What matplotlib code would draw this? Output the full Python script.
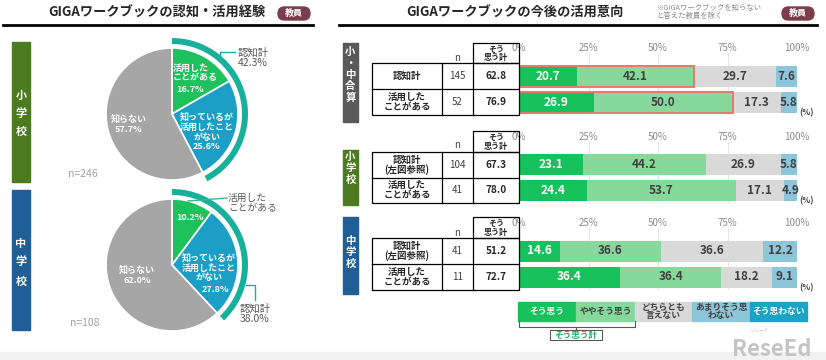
import matplotlib
matplotlib.use("Agg")
import matplotlib.pyplot as plt
from matplotlib.patches import Rectangle, FancyBboxPatch

W, H = 826, 360

# left panel: awareness / usage of the workbook
elem_values = [16.7, 25.6, 57.7]
elem_n = 246
elem_aware = 42.3
junior_values = [10.2, 27.8, 62.0]
junior_n = 108
junior_aware = 38.0

# right panel: intention to use
answer_labels = ["そう思う", "ややそう思う", "どちらとも\n言えない", "あまりそう思\nわない", "そう思わない"]
group_names = ["小・中合算", "小学校", "中学校"]
row_labels = [
    ["認知計", "活用した\nことがある"],
    ["認知計\n(左図参照)", "活用した\nことがある"],
    ["認知計\n(左図参照)", "活用した\nことがある"],
]
row_n = [[145, 52], [104, 41], [41, 11]]
row_total = [[62.8, 76.9], [67.3, 78.0], [51.2, 72.7]]
agree = [[20.7, 26.9], [23.1, 24.4], [14.6, 36.4]]
some_agree = [[42.1, 50.0], [44.2, 53.7], [36.6, 36.4]]
neutral = [[29.7, 17.3], [26.9, 17.1], [36.6, 18.2]]
little = [[7.6, 5.8], [5.8, 4.9], [12.2, 9.1]]
disagree = [[0.0, 0.0], [0.0, 0.0], [0.0, 0.0]]
ticks = [0, 25, 50, 75, 100]

PIE_COLORS = ["#1fc15c", "#1b9fc6", "#a6a6a6"]
RING = "#17b09c"
BAR_COLORS = ["#17c15b", "#86d99b", "#d9d9d9", "#8dc5d9", "#1ba3c6"]
BAR_TEXT = ["white", "#404040", "#404040", "#404040", "white"]
GRAY_TXT = "#595959"
BADGE = "#7b3d4b"

plt.rcParams["font.family"] = ["Noto Sans CJK JP", "DejaVu Sans"]


def px_axes(fig, x0, y0, x1, y1):
    return fig.add_axes([x0 / W, 1 - y1 / H, (x1 - x0) / W, (y1 - y0) / H])


def draw_pie(fig, cx, cy, values, aware):
    ax = px_axes(fig, cx - 80, cy - 80, cx + 80, cy + 80)
    ax.pie(values, radius=66, startangle=90, counterclock=False, colors=PIE_COLORS,
           wedgeprops=dict(edgecolor="white", linewidth=1.2))
    ax.pie([aware, 100 - aware], radius=76, startangle=90, counterclock=False,
           colors=[RING, "none"], wedgeprops=dict(width=6, linewidth=0))
    ax.set_xlim(-80, 80)
    ax.set_ylim(-80, 80)
    ax.set_aspect("equal")
    ax.axis("off")


def main() -> None:
    fig = plt.figure(figsize=(W / 100, H / 100), dpi=100)

    draw_pie(fig, 172, 114, elem_values, elem_aware)
    draw_pie(fig, 172, 265, junior_values, junior_aware)

    groups = [
        dict(hdr=43, rows=[63, 89, 115], side=(43, 122), color="#595959", n_y=58, pct_y=113, ch_y=52),
        dict(hdr=131, rows=[152, 177.5, 203], side=(150, 205), color="#4b7a20", n_y=145, pct_y=201, ch_y=157),
        dict(hdr=217, rows=[238, 264, 290], side=(217, 294), color="#1f5f95", n_y=233, pct_y=288, ch_y=241),
    ]
    x0, x1 = 519, 797

    series = [agree, some_agree, neutral, little, disagree]
    for g, spec in enumerate(groups):
        top, mid, bot = spec["rows"]
        centers = [(top + mid) / 2, (mid + bot) / 2]
        bax = px_axes(fig, x0, top - 10, x1, bot)
        bax.set_xlim(0, 100)
        bax.set_ylim(bot, top - 10)
        left = [0.0, 0.0]
        for s, data in enumerate(series):
            vals = data[g]
            bax.barh(centers, vals, left=left, height=21, color=BAR_COLORS[s], zorder=2)
            for yc, v, l in zip(centers, vals, left):
                if v > 0:
                    bax.text(l + v / 2, yc, f"{v:.1f}", ha="center", va="center",
                             fontsize=8.5, fontweight="bold", color=BAR_TEXT[s], zorder=3)
            left = [a + b for a, b in zip(left, vals)]
        if g == 0:
            for yc, tot in zip(centers, row_total[g]):
                bax.add_patch(Rectangle((0, yc - 10.5), tot, 21, fill=False,
                                        edgecolor="#e8796f", linewidth=1.4, zorder=4))
        bax.xaxis.tick_top()
        bax.set_xticks(ticks)
        bax.set_xticklabels([f"{t}%" for t in ticks], fontsize=7, color="#8c8c8c")
        bax.tick_params(axis="x", length=0, pad=0)
        bax.set_yticks([])
        bax.grid(axis="x", color="#e4e4e4", linewidth=0.8, zorder=0)
        bax.set_axisbelow(True)
        for sp in bax.spines.values():
            sp.set_visible(False)

    ov = fig.add_axes([0, 0, 1, 1])
    ov.set_xlim(0, W)
    ov.set_ylim(H, 0)
    ov.axis("off")
    ov.patch.set_alpha(0)

    # bottom strip
    ov.add_patch(Rectangle((0, 352), W, 8, color="#f1f1f1", zorder=0))

    # titles
    ov.text(157, 13, "GIGAワークブックの認知・活用経験", ha="center", va="center",
            fontsize=9.5, fontweight="bold", color="#262626")
    ov.text(515, 13, "GIGAワークブックの今後の活用意向", ha="center", va="center",
            fontsize=9.5, fontweight="bold", color="#262626")
    ov.text(657, 12, "※GIGAワークブックを知らない\nと答えた教員を除く", ha="left", va="center",
            fontsize=5.3, color="#8c8c8c", linespacing=1.0)
    for bx in (294, 798):
        ov.add_patch(FancyBboxPatch((bx - 16, 7), 32, 13, boxstyle="round,pad=0,rounding_size=6.5",
                                    color=BADGE))
        ov.text(bx, 13.5, "教員", ha="center", va="center", fontsize=6.5,
                fontweight="bold", color="white")
    ov.plot([3, 313], [25, 25], color="black", lw=2)
    ov.plot([339, 817], [25, 25], color="black", lw=2)

    # left side bars
    ov.add_patch(Rectangle((12, 42), 18, 140, color="#4b7a20"))
    ov.add_patch(Rectangle((12, 190), 18, 140, color="#1f5f95"))
    for i, ch in enumerate("小学校"):
        ov.text(21, 95 + i * 18, ch, ha="center", va="center", fontsize=8,
                fontweight="bold", color="white")
    for i, ch in enumerate("中学校"):
        ov.text(21, 243 + i * 19, ch, ha="center", va="center", fontsize=8,
                fontweight="bold", color="white")

    # pie 1 labels
    wb = dict(fontsize=6.5, fontweight="bold", color="white", linespacing=1.1)
    ov.text(173, 73, "活用した\nことがある", ha="left", va="center", **wb)
    ov.text(176, 90, f"{elem_values[0]:.1f}%", ha="left", va="center", **wb)
    ov.text(207, 132, f"知っているが\n活用したこと\nがない\n{elem_values[1]:.1f}%",
            ha="center", va="center", **wb)
    ov.text(129, 124, f"知らない\n{elem_values[2]:.1f}%", ha="center", va="center", **wb)
    ov.plot([220, 220, 235], [58, 52, 52], color=RING, lw=1)
    ov.text(238, 58, f"認知計\n{elem_aware:.1f}%", ha="left", va="center", fontsize=7.5,
            color=GRAY_TXT, linespacing=1.05)
    ov.text(68, 174, f"n={elem_n}", ha="left", va="center", fontsize=7.5, color="#a0a0a0")

    # pie 2 labels
    ov.text(176, 217, f"{junior_values[0]:.1f}%", ha="left", va="center", **wb)
    ov.plot([188, 227], [201, 198], color="#3cb88a", lw=1)
    ov.text(228, 203, "活用した\nことがある", ha="left", va="center", fontsize=7,
            color=GRAY_TXT, linespacing=1.0)
    ov.text(209, 268, "知っているが\n活用したこと\nがない", ha="center", va="center", **wb)
    ov.text(215, 289, f"{junior_values[1]:.1f}%", ha="center", va="center", **wb)
    ov.text(137, 275, f"知らない\n{junior_values[2]:.1f}%", ha="center", va="center", **wb)
    ov.plot([246, 255, 255], [285, 285, 300], color=RING, lw=1)
    ov.text(240, 314, f"認知計\n{junior_aware:.1f}%", ha="left", va="center", fontsize=7.5,
            color=GRAY_TXT, linespacing=1.05)
    ov.text(70, 323, f"n={junior_n}", ha="left", va="center", fontsize=7.5, color="#a0a0a0")

    # right tables
    lw = 0.9
    for g, spec in enumerate(groups):
        top, mid, bot = spec["rows"]
        hdr = spec["hdr"]
        s0, s1 = spec["side"]
        ov.add_patch(Rectangle((343, s0), 15, s1 - s0, color=spec["color"]))
        for i, ch in enumerate(group_names[g]):
            ov.text(350.5, spec["ch_y"] + i * 11.5, ch, ha="center", va="center",
                    fontsize=7.5, fontweight="bold", color="white")
        ov.add_patch(Rectangle((473, hdr), 46, top - hdr, fill=False, edgecolor="black", lw=lw))
        ov.add_patch(Rectangle((372, top), 147, bot - top, fill=False, edgecolor="black", lw=lw))
        ov.plot([372, 519], [mid, mid], color="black", lw=lw)
        ov.plot([442, 442], [top, bot], color="black", lw=lw)
        ov.plot([473, 473], [top, bot], color="black", lw=lw)
        ov.text(496, (hdr + top) / 2 + 0.5, "そう\n思う計", ha="center", va="center",
                fontsize=5.8, fontweight="bold", color="#262626", linespacing=0.95)
        ov.text(457.5, spec["n_y"], "n", ha="center", va="center", fontsize=7, color="#404040")
        for r, yc in enumerate([(top + mid) / 2, (mid + bot) / 2]):
            ov.text(407, yc, row_labels[g][r], ha="center", va="center", fontsize=6.8,
                    fontweight="bold", color="#262626", linespacing=1.0)
            ov.text(457.5, yc, str(row_n[g][r]), ha="center", va="center", fontsize=7,
                    color="#404040")
            ov.text(496, yc, f"{row_total[g][r]:.1f}", ha="center", va="center", fontsize=7.2,
                    fontweight="bold", color="#262626")
        ov.text(806, spec["pct_y"], "(%)", ha="center", va="center", fontsize=6,
                fontweight="bold", color="#404040")

    # legend
    edges = [518, 576, 635, 692, 750, 807]
    for i, lab in enumerate(answer_labels):
        ov.add_patch(Rectangle((edges[i], 302), edges[i + 1] - edges[i], 19, color=BAR_COLORS[i]))
        ov.text((edges[i] + edges[i + 1]) / 2, 311.5, lab, ha="center", va="center",
                fontsize=6.3, fontweight="bold", color=BAR_TEXT[i], linespacing=0.95)
    ov.plot([519, 519, 635, 635], [321, 327, 327, 321], color="#595959", lw=0.8)
    ov.plot([576, 576], [327, 330], color="#595959", lw=0.8)
    ov.add_patch(Rectangle((550, 330), 52, 9.5, fill=False, edgecolor="#595959", lw=0.8))
    ov.text(576, 335, "そう思う計", ha="center", va="center", fontsize=6.2,
            fontweight="bold", color="#1fae5a")

    # watermark
    ov.text(760, 331, "リシード", ha="center", va="center", fontsize=3.5, color="#bdbdbd")
    ov.text(732, 356, "ReseEd", ha="left", va="baseline", fontsize=16,
            fontweight="bold", color="#c4c4c4")

    fig.savefig("out.png", dpi=100)


if __name__ == "__main__":
    main()
